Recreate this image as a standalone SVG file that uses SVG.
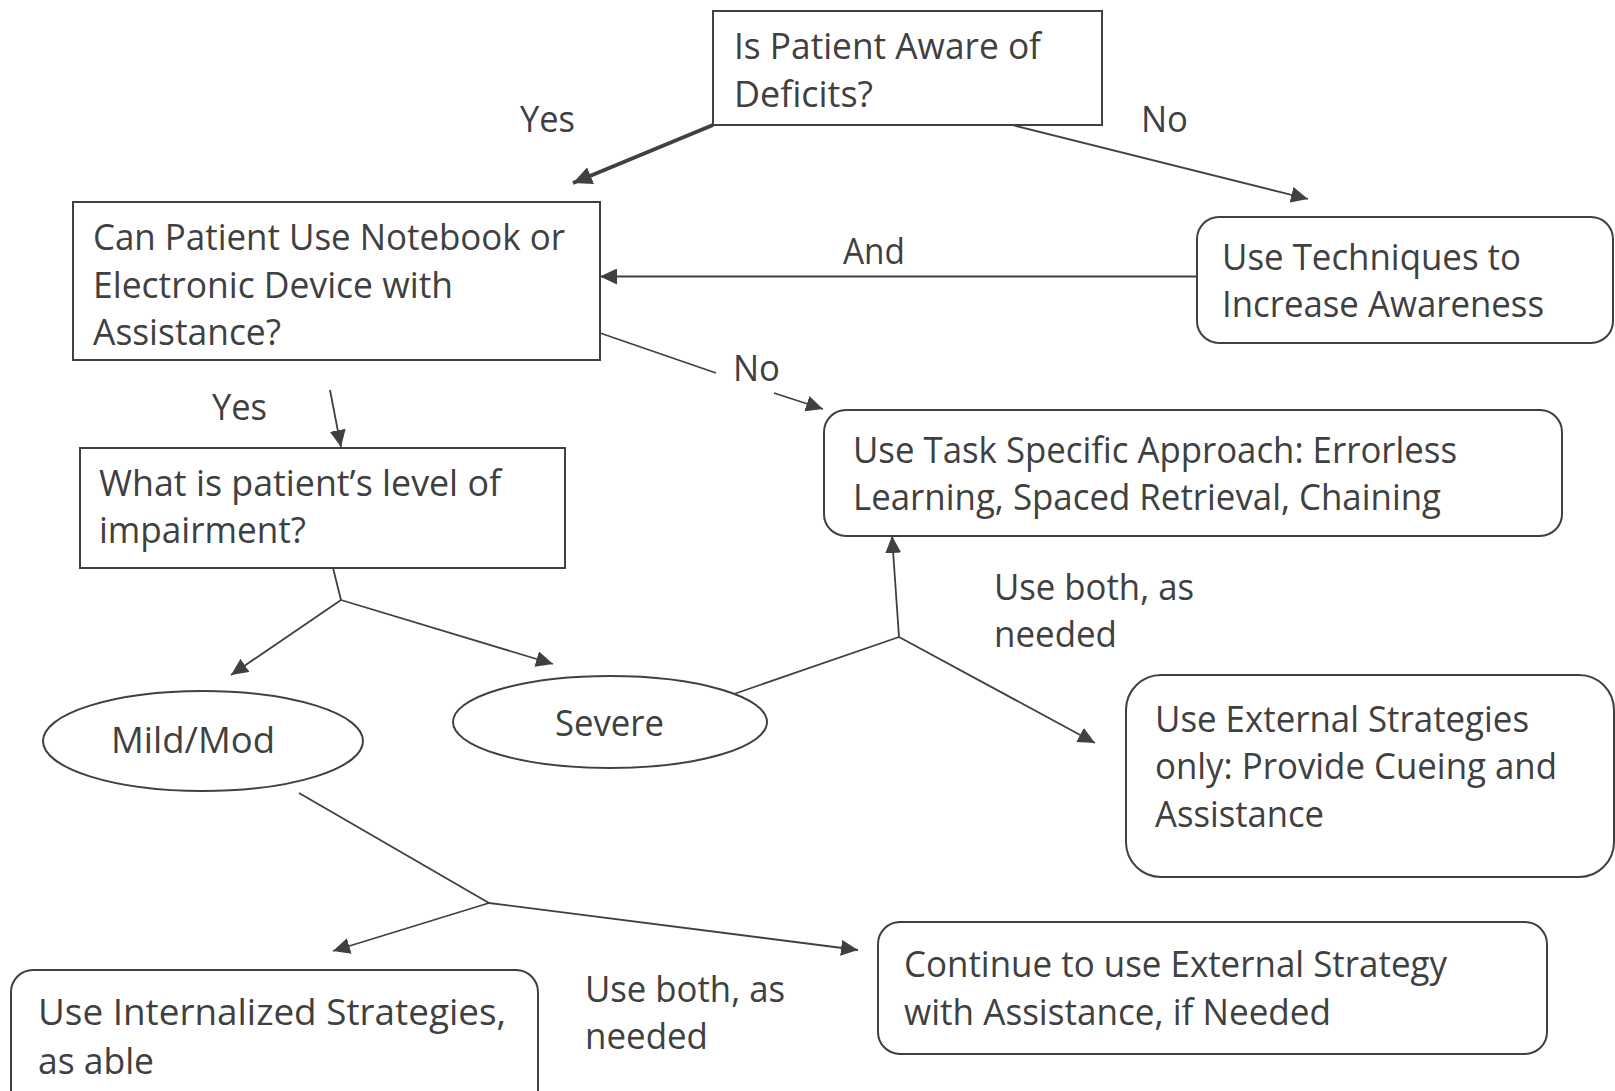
<svg xmlns="http://www.w3.org/2000/svg" width="1615" height="1091" viewBox="0 0 1615 1091">
<style>
.bg{fill:#ffffff}
.box{fill:#ffffff;stroke:#404040;stroke-width:2}
.t{font-family:"Open Sans","Noto Sans","Liberation Sans",sans-serif;font-size:36px;fill:#404040}
.ln{fill:none;stroke:#404040;stroke-width:1.8}
.thick{fill:none;stroke:#404040;stroke-width:4}
</style>
<defs>
<marker id="ah" markerUnits="userSpaceOnUse" markerWidth="18" markerHeight="16" refX="17" refY="8" orient="auto">
<path d="M0,0 L17,8 L0,16 z" fill="#404040"/>
</marker>
<marker id="ahb" markerUnits="userSpaceOnUse" markerWidth="20" markerHeight="18" refX="19" refY="9" orient="auto">
<path d="M0,0 L19,9 L0,18 z" fill="#404040"/>
</marker>
</defs>
<rect class="bg" x="0" y="0" width="1615" height="1091"/>

<g id="connectors">
<path class="thick" d="M713,125 L573,183" marker-end="url(#ahb)"/>
<path class="ln" d="M1012,125 L1308,199" marker-end="url(#ah)"/>
<path class="ln" d="M1197,276.5 L600,276.5" marker-end="url(#ah)"/>
<path class="ln" d="M600,333 L716,373 M774,393 L823,409" marker-end="url(#ah)"/>
<path class="ln" d="M330,390 L341,447" marker-end="url(#ah)"/>
<path class="ln" d="M333,568 L341,600"/>
<path class="ln" d="M341,600 L231,675" marker-end="url(#ah)"/>
<path class="ln" d="M341,600 L553,664" marker-end="url(#ah)"/>
<path class="ln" d="M731,695 L899,637"/>
<path class="ln" d="M899,637 L892,536" marker-end="url(#ah)"/>
<path class="ln" d="M899,637 L1095,743" marker-end="url(#ah)"/>
<path class="ln" d="M299,793 L489,903"/>
<path class="ln" d="M489,903 L333,951" marker-end="url(#ah)"/>
<path class="ln" d="M489,903 L858,950" marker-end="url(#ah)"/>
<text class="t" x="520" y="131.7" textLength="55" lengthAdjust="spacingAndGlyphs">Yes</text>
<text class="t" x="1141" y="131.5" textLength="47" lengthAdjust="spacingAndGlyphs">No</text>
<text class="t" x="843" y="264" textLength="62" lengthAdjust="spacingAndGlyphs">And</text>
<text class="t" x="733" y="381" textLength="47" lengthAdjust="spacingAndGlyphs">No</text>
<text class="t" x="212" y="420" textLength="55" lengthAdjust="spacingAndGlyphs">Yes</text>
<text class="t" x="994" y="600" textLength="200" lengthAdjust="spacingAndGlyphs">Use both, as</text>
<text class="t" x="994" y="647" textLength="123" lengthAdjust="spacingAndGlyphs">needed</text>
<text class="t" x="585" y="1002" textLength="200" lengthAdjust="spacingAndGlyphs">Use both, as</text>
<text class="t" x="585" y="1049" textLength="123" lengthAdjust="spacingAndGlyphs">needed</text>
</g>

<g id="node-aware">
<rect class="box" x="713" y="11" width="389" height="114"/>
<text class="t" x="734" y="58.5" textLength="307" lengthAdjust="spacingAndGlyphs">Is Patient Aware of</text>
<text class="t" x="734" y="107" textLength="139" lengthAdjust="spacingAndGlyphs">Deficits?</text>
</g>

<g id="node-notebook">
<rect class="box" x="73" y="202" width="527" height="158"/>
<text class="t" x="93" y="250" textLength="472" lengthAdjust="spacingAndGlyphs">Can Patient Use Notebook or</text>
<text class="t" x="93" y="297.5" textLength="360" lengthAdjust="spacingAndGlyphs">Electronic Device with</text>
<text class="t" x="93" y="345" textLength="188" lengthAdjust="spacingAndGlyphs">Assistance?</text>
</g>

<g id="node-techniques">
<rect class="box" x="1197" y="217" width="416" height="126" rx="22" ry="22"/>
<text class="t" x="1222" y="270" textLength="299" lengthAdjust="spacingAndGlyphs">Use Techniques to</text>
<text class="t" x="1222" y="317" textLength="322" lengthAdjust="spacingAndGlyphs">Increase Awareness</text>
</g>

<g id="node-task">
<rect class="box" x="824" y="410" width="738" height="126" rx="22" ry="22"/>
<text class="t" x="853" y="463" textLength="604" lengthAdjust="spacingAndGlyphs">Use Task Specific Approach: Errorless</text>
<text class="t" x="853" y="510" textLength="588" lengthAdjust="spacingAndGlyphs">Learning, Spaced Retrieval, Chaining</text>
</g>

<g id="node-level">
<rect class="box" x="80" y="448" width="485" height="120"/>
<text class="t" x="99" y="496" textLength="402" lengthAdjust="spacingAndGlyphs">What is patient’s level of</text>
<text class="t" x="99" y="543" textLength="207" lengthAdjust="spacingAndGlyphs">impairment?</text>
</g>

<g id="node-mild">
<ellipse class="box" cx="203" cy="741" rx="160" ry="50"/>
<text class="t" x="111" y="753" textLength="164" lengthAdjust="spacingAndGlyphs">Mild/Mod</text>
</g>

<g id="node-severe">
<ellipse class="box" cx="610" cy="722" rx="157" ry="46"/>
<text class="t" x="555" y="736" textLength="109" lengthAdjust="spacingAndGlyphs">Severe</text>
</g>

<g id="node-external">
<rect class="box" x="1126" y="675" width="488" height="202" rx="35" ry="35"/>
<text class="t" x="1155" y="731.5" textLength="374" lengthAdjust="spacingAndGlyphs">Use External Strategies</text>
<text class="t" x="1155" y="779" textLength="402" lengthAdjust="spacingAndGlyphs">only: Provide Cueing and</text>
<text class="t" x="1155" y="827" textLength="169" lengthAdjust="spacingAndGlyphs">Assistance</text>
</g>

<g id="node-continue">
<rect class="box" x="878" y="922" width="669" height="132" rx="22" ry="22"/>
<text class="t" x="904" y="976.5" textLength="543" lengthAdjust="spacingAndGlyphs">Continue to use External Strategy</text>
<text class="t" x="904" y="1025" textLength="427" lengthAdjust="spacingAndGlyphs">with Assistance, if Needed</text>
</g>

<g id="node-internalized">
<rect class="box" x="11" y="970" width="527" height="150" rx="22" ry="22"/>
<text class="t" x="38" y="1025" textLength="468" lengthAdjust="spacingAndGlyphs">Use Internalized Strategies,</text>
<text class="t" x="38" y="1074" textLength="116" lengthAdjust="spacingAndGlyphs">as able</text>
</g>
</svg>
